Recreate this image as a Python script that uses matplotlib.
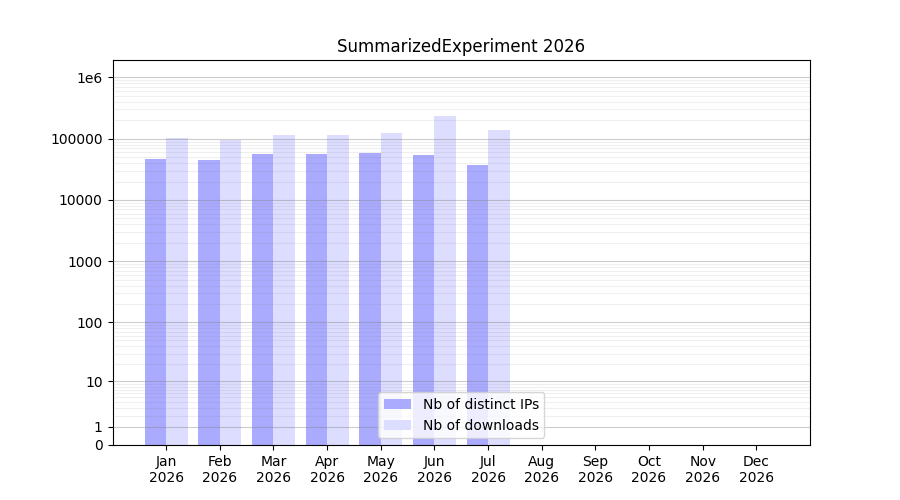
import matplotlib
matplotlib.use('Agg')
import matplotlib.pyplot as plt
import numpy as np

year = 2026
months = ['Jan', 'Feb', 'Mar', 'Apr', 'May', 'Jun',
          'Jul', 'Aug', 'Sep', 'Oct', 'Nov', 'Dec']
# values (log scale, so approximate)
nb_distinct_ips = [46200, 44500, 55700, 55700, 57800, 53600, 36900,
                   0, 0, 0, 0, 0]
nb_downloads = [101000, 93800, 116000, 116000, 122000, 239000, 141000,
                0, 0, 0, 0, 0]
ytick_values = [0, 1, 10, 100, 1000, 10000, 100000, 1000000]
ytick_labels = ['0', '1', '10', '100', '1000', '10000', '100000', '1e6']


def to_y(v):
    return np.log10(np.asarray(v, dtype=np.float64) + 1)


def main():
    fig, ax = plt.subplots(figsize=(9, 5), dpi=100)

    x = np.arange(len(months))
    w = 0.4
    ax.bar(x - w / 2, to_y(nb_distinct_ips), width=w, color='#aaaaff',
           label='Nb of distinct IPs')
    ax.bar(x + w / 2, to_y(nb_downloads), width=w, color='#ddddff',
           label='Nb of downloads')

    # y axis: log10(count + 1) with readable labels
    ax.set_yticks(to_y(ytick_values))
    ax.set_yticklabels(ytick_labels)
    minor = [k * 10 ** n for n in range(0, 7) for k in range(2, 10)]
    ax.set_yticks(to_y(minor), minor=True)
    ax.tick_params(axis='y', which='minor', length=0)
    ax.set_ylim(0, 6.285)
    ax.set_axisbelow(False)
    ax.grid(axis='y', which='major', color='gray', alpha=0.4, linewidth=0.8)
    ax.grid(axis='y', which='minor', color='gray', alpha=0.12, linewidth=0.8)

    ax.set_xticks(x)
    ax.set_xticklabels(['%s\n%d' % (m, year) for m in months])
    ax.set_xlim(-1, len(months))

    ax.set_title('SummarizedExperiment %d' % year)
    ax.legend(loc='lower center')

    fig.savefig('out.png')


if __name__ == '__main__':
    main()
